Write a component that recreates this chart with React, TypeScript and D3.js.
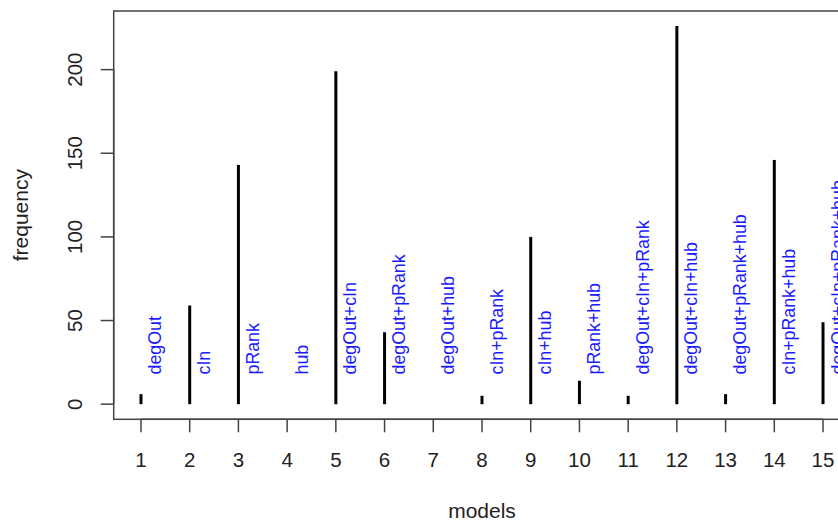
import React from "react";
import { scaleLinear } from "d3";

const models = [1, 2, 3, 4, 5, 6, 7, 8, 9, 10, 11, 12, 13, 14, 15];
const frequency = [6, 59, 143, 0, 199, 43, 0, 5, 100, 14, 5, 226, 6, 146, 49];
const modelNames = [
  "degOut",
  "cIn",
  "pRank",
  "hub",
  "degOut+cIn",
  "degOut+pRank",
  "degOut+hub",
  "cIn+pRank",
  "cIn+hub",
  "pRank+hub",
  "degOut+cIn+pRank",
  "degOut+cIn+hub",
  "degOut+pRank+hub",
  "cIn+pRank+hub",
  "degOut+cIn+pRank+hub",
];
const yTicks = [0, 50, 100, 150, 200];

const width = 838;
const height = 523;
const font = "'Liberation Sans', Arial, sans-serif";

const App = () => {
  const left = 113.7;
  const right = 850.3;
  const top = 11;
  const bottom = 419.3;

  // R style: 4% padding on both axes
  const x = scaleLinear().domain([0.44, 15.56]).range([left, right]);
  const y = scaleLinear().domain([-9.04, 235.04]).range([bottom, top]);

  return (
    <svg
      width={width}
      height={height}
      style={{ position: "absolute", left: 0, top: 0, background: "#fff" }}
    >
      {/* spikes */}
      {models.map((m, i) => (
        <line
          key={"h" + m}
          x1={x(m)}
          x2={x(m)}
          y1={y(0)}
          y2={y(frequency[i])}
          stroke="#000"
          strokeWidth={3}
        />
      ))}

      {/* labels */}
      {models.map((m, i) => (
        <text
          key={"l" + m}
          transform={`translate(${x(m) + 20.5},${374.5}) rotate(-90)`}
          fontFamily={font}
          fontSize={17.8}
          fill="#1a1aff"
        >
          {modelNames[i]}
        </text>
      ))}

      {/* box */}
      <rect
        x={left}
        y={top}
        width={right - left}
        height={bottom - top}
        fill="none"
        stroke="#444"
        strokeWidth={1.5}
      />

      {/* x axis */}
      <line x1={x(1)} x2={x(15)} y1={bottom} y2={bottom} stroke="#444" strokeWidth={1.5} />
      {models.map((m) => (
        <g key={"xt" + m}>
          <line x1={x(m)} x2={x(m)} y1={bottom} y2={bottom + 13} stroke="#444" strokeWidth={1.5} />
          <text
            x={x(m)}
            y={467}
            textAnchor="middle"
            fontFamily={font}
            fontSize={20.5}
            fill="#222"
          >
            {m}
          </text>
        </g>
      ))}

      {/* y axis */}
      <line x1={left} x2={left} y1={y(0)} y2={y(200)} stroke="#444" strokeWidth={1.5} />
      {yTicks.map((t) => (
        <g key={"yt" + t}>
          <line x1={left - 13} x2={left} y1={y(t)} y2={y(t)} stroke="#444" strokeWidth={1.5} />
          <text
            transform={`translate(${82},${y(t)}) rotate(-90)`}
            textAnchor="middle"
            fontFamily={font}
            fontSize={20.5}
            fill="#222"
          >
            {t}
          </text>
        </g>
      ))}

      {/* axis titles */}
      <text
        x={(left + right) / 2}
        y={518}
        textAnchor="middle"
        fontFamily={font}
        fontSize={21}
        fill="#222"
      >
        models
      </text>
      <text
        transform={`translate(${28},${(top + bottom) / 2}) rotate(-90)`}
        textAnchor="middle"
        fontFamily={font}
        fontSize={21}
        fill="#222"
      >
        frequency
      </text>
    </svg>
  );
};

export default App;
